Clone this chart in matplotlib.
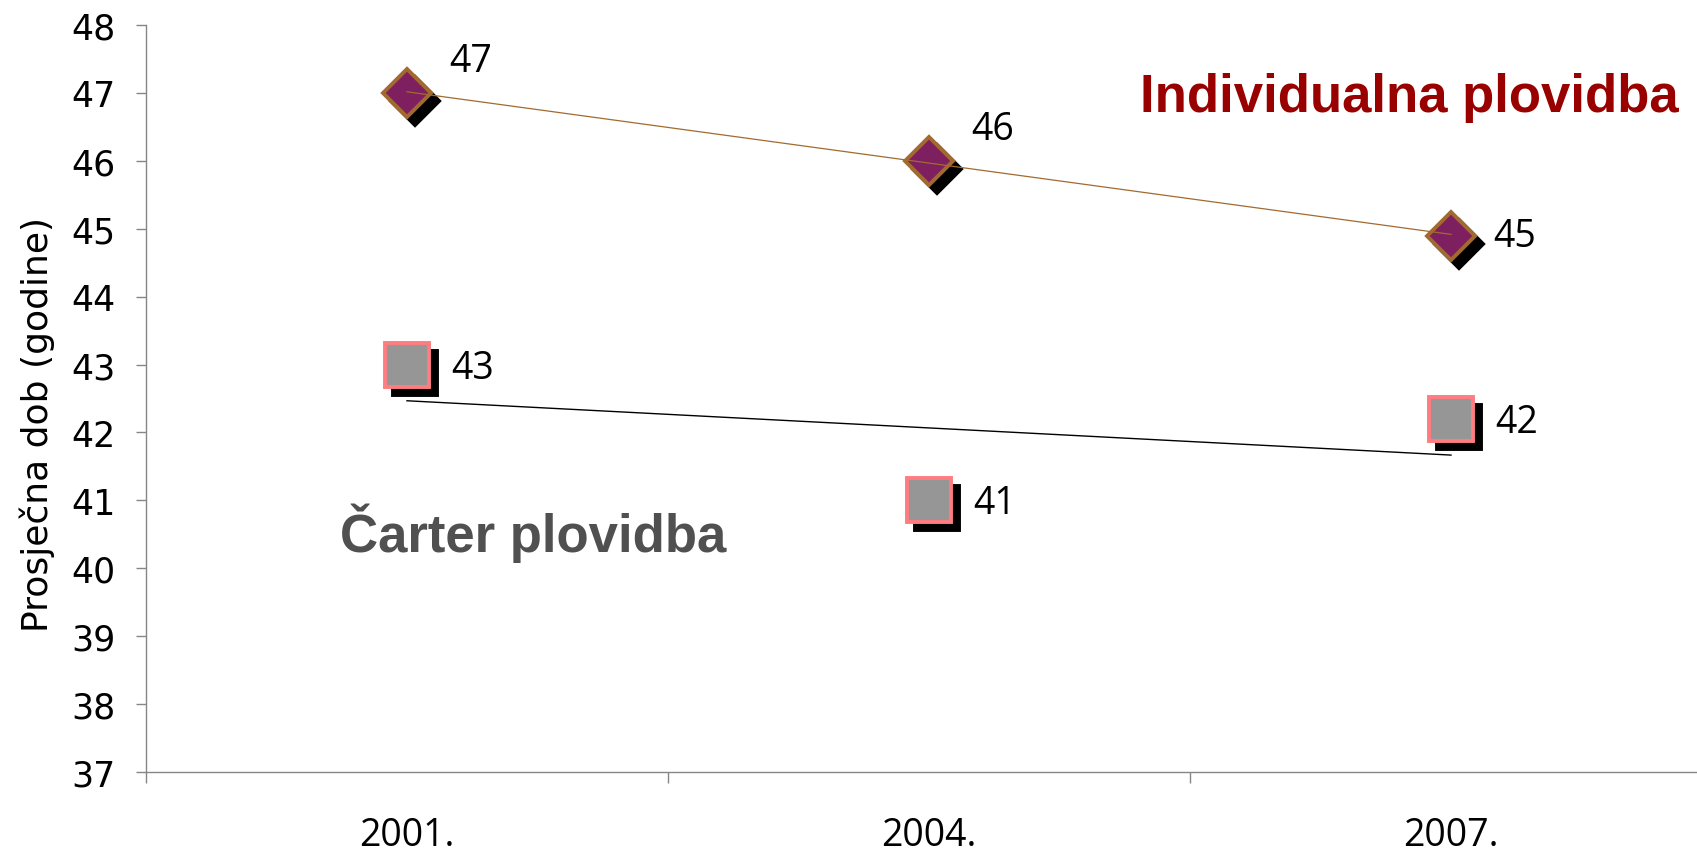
import numpy as np
import matplotlib
matplotlib.use("Agg")
from matplotlib import pyplot as plt
from matplotlib.transforms import offset_copy

years = ["2001.", "2004.", "2007."]
individualna = [47.0, 46.0, 44.9]
carter = [43.0, 41.0, 42.2]
labels_ind = ["47", "46", "45"]
labels_car = ["43", "41", "42"]

# label offsets in pixels (dx, dy)
off_ind = [(64, 32), (64, 32), (64, 0)]
off_car = [(66, -3), (66, -3), (66, -3)]

fig = plt.figure(figsize=(16.97, 8.54), dpi=100)
ax = fig.add_axes([146 / 1697, 81 / 854, 1566 / 1697, 747 / 854])

x = np.arange(len(years)) + 0.5
shadow = offset_copy(ax.transData, fig=fig, x=8, y=-8, units="dots")

# shadows
ax.plot(x, individualna, "D", ms=24, mfc="black", mec="black", mew=2.8,
        transform=shadow, zorder=2, clip_on=False)
ax.plot(x, carter, "s", ms=31.5, mfc="black", mec="black", mew=2.8,
        transform=shadow, zorder=2, clip_on=False)

# markers
ax.plot(x, individualna, "D", ms=24, mfc="#7E1F5F", mec="#A36A30", mew=2.8,
        zorder=3, clip_on=False)
ax.plot(x, carter, "s", ms=31.5, mfc="#969696", mec="#FF7C80", mew=2.8,
        zorder=3, clip_on=False)

# linear trend lines
k, b = np.polyfit(x, individualna, 1)
ax.plot([x[0], x[-1]], [k * x[0] + b, k * x[-1] + b], color="#A36A30", lw=0.9, zorder=4)
k, b = np.polyfit(x, carter, 1)
ax.plot([x[0], x[-1]], [k * x[0] + b, k * x[-1] + b], color="black", lw=1.0, zorder=4)

# data labels
for xi, yi, t, (dx, dy) in zip(x, individualna, labels_ind, off_ind):
    ax.annotate(t, (xi, yi), xytext=(dx * 0.72, dy * 0.72), textcoords="offset points",
                ha="center", va="center", fontsize=27, family="Open Sans")
for xi, yi, t, (dx, dy) in zip(x, carter, labels_car, off_car):
    ax.annotate(t, (xi, yi), xytext=(dx * 0.72, dy * 0.72), textcoords="offset points",
                ha="center", va="center", fontsize=27, family="Open Sans")

ax.text(1.905, 46.73, "Individualna plovidba", color="#990000", fontsize=38,
        fontweight="bold", family="Liberation Sans", ha="left", va="baseline")
ax.text(0.372, 40.25, "Čarter plovidba", color="#505050", fontsize=38,
        fontweight="bold", family="Liberation Sans", ha="left", va="baseline")

ax.set_xlim(0, 3)
ax.set_ylim(37, 48)
ax.set_yticks(range(37, 49))
ax.tick_params(axis="y", labelsize=25, length=7, width=1, color="#868686", pad=15)
ax.set_xticks([0, 1, 2, 3])
ax.set_xticklabels([])
ax.set_xticks(x, minor=True)
ax.set_xticklabels(years, minor=True, fontsize=27, family="Open Sans")
ax.tick_params(axis="x", which="major", length=8, width=1, color="#868686")
ax.tick_params(axis="x", which="minor", length=0, pad=32)

for s in ["top", "right"]:
    ax.spines[s].set_visible(False)
for s in ["left", "bottom"]:
    ax.spines[s].set_color("#868686")
    ax.spines[s].set_linewidth(1.0)

ax.set_ylabel("Prosječna dob (godine)", fontsize=26, family="Liberation Sans Narrow")
ax.yaxis.set_label_coords(-0.058, 0.467)

plt.savefig("out.png", dpi=100)
